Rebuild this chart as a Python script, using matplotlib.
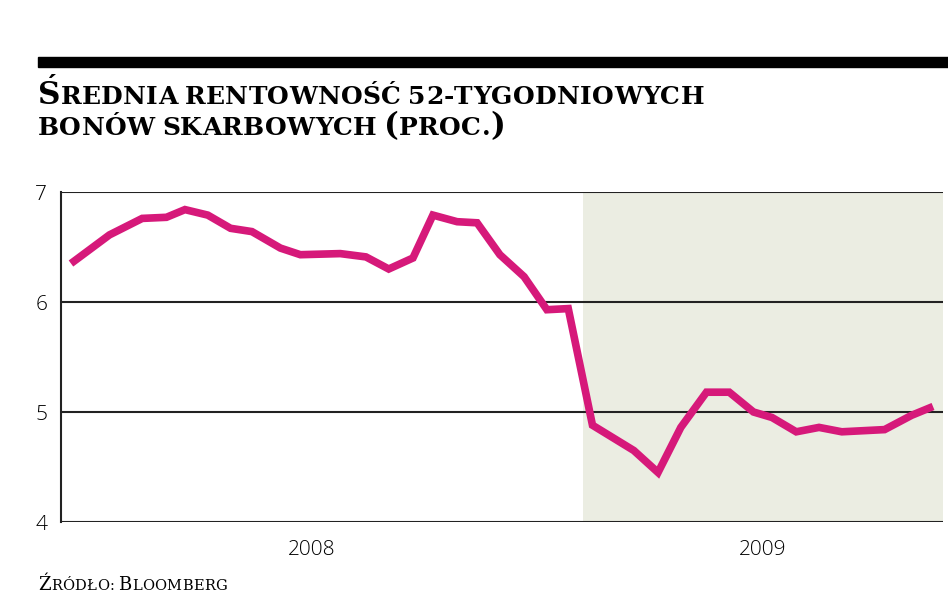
import numpy as np
import pandas as pd
import matplotlib
matplotlib.use("Agg")
import matplotlib.pyplot as plt
import matplotlib.dates as mdates

# average yield of 52-week treasury bills, percent
DATES = ["2008-01-08", "2008-02-04", "2008-02-27", "2008-03-15", "2008-03-28",
         "2008-04-13", "2008-04-29", "2008-05-14", "2008-06-03", "2008-06-17",
         "2008-07-15", "2008-08-02", "2008-08-18", "2008-09-04", "2008-09-18",
         "2008-10-05", "2008-10-19", "2008-11-04", "2008-11-21", "2008-12-07",
         "2008-12-22", "2009-01-08", "2009-02-06", "2009-02-23", "2009-03-11",
         "2009-03-29", "2009-04-14", "2009-05-01", "2009-05-14", "2009-05-31",
         "2009-06-16", "2009-07-02", "2009-08-01", "2009-08-20", "2009-09-04"]
YIELDS = [6.35, 6.61, 6.76, 6.77, 6.84,
          6.79, 6.67, 6.64, 6.49, 6.43,
          6.44, 6.41, 6.30, 6.40, 6.79,
          6.73, 6.72, 6.43, 6.23, 5.93,
          5.94, 4.88, 4.65, 4.45, 4.86,
          5.18, 5.18, 5.00, 4.95, 4.82,
          4.86, 4.82, 4.84, 4.97, 5.05]
Y_TICKS = [4, 5, 6, 7]
YEARS = ["2008", "2009"]

TITLE_1 = "Średnia rentowność 52-tygodniowych"
TITLE_2 = "bonów skarbowych (proc.)"
SOURCE = "Źródło: Bloomberg"

LINE_C = "#d6197a"
SHADE_C = "#ebede2"

x = pd.to_datetime(DATES)
x0 = pd.Timestamp("2008-01-01")
x_split = pd.Timestamp("2009-01-01")
x1 = pd.Timestamp("2009-09-11")

W, H = 948, 593
fig = plt.figure(figsize=(W / 100, H / 100), dpi=100)
ax = fig.add_axes([61 / W, 1 - 522 / H, (943 - 61) / W, (522 - 192) / H])

ax.axvspan(x_split, x1, color=SHADE_C, lw=0, zorder=0)
for v in Y_TICKS:
    ax.axhline(v, color="#222222", lw=1.5, zorder=1)
ax.plot(x, YIELDS, color=LINE_C, lw=5.5, solid_joinstyle="miter",
        solid_capstyle="butt", zorder=3)

ax.set_xlim(x0, x1)
ax.set_ylim(4, 7)
for s in ["top", "right", "bottom"]:
    ax.spines[s].set_visible(False)
ax.spines["left"].set_linewidth(1.5)
ax.spines["left"].set_color("#222222")
ax.set_xticks([])
ax.set_yticks(Y_TICKS)
ax.tick_params(axis="y", length=0, pad=10)
thin = ["Open Sans", "DejaVu Sans"]
ax.set_yticklabels([str(v) for v in Y_TICKS], family=thin, fontweight="light",
                   fontsize=15)

# year labels centred under each segment
yr_mid = [x0 + (x_split - x0) / 2 - pd.Timedelta(days=7),
          x_split + (x1 - x_split) / 2]
for d, lab in zip(yr_mid, YEARS):
    ax.text(mdates.date2num(d), -0.055, lab, transform=ax.get_xaxis_transform(),
            ha="center", va="top", family=thin, fontweight="light", fontsize=15)

# thick black bar on top
fig.patches.append(plt.Rectangle((38 / W, 1 - 67 / H), 1, 10 / H,
                                 transform=fig.transFigure, color="black"))


def small_caps(xpx, ypx, text, big, small, weight="bold"):
    """draw text as small caps; ypx is baseline in pixels from the top"""
    fig.canvas.draw()
    r = fig.canvas.get_renderer()
    cur = xpx
    for ch in text:
        size = big if (ch.isupper() or ch in "()") else small
        if ch == " ":
            cur += size * 0.38
            continue
        t = fig.text(cur / W, 1 - ypx / H, ch.upper(), fontsize=size,
                     fontweight=weight, family="DejaVu Serif",
                     va="baseline", ha="left")
        bb = t.get_window_extent(r)
        cur = bb.x1 + 0.3


small_caps(38, 104, TITLE_1, 22.5, 18)
small_caps(38, 135, TITLE_2, 22.5, 18)
small_caps(38, 590, SOURCE, 13, 10.5, weight="normal")

fig.savefig("out.png", dpi=100)
